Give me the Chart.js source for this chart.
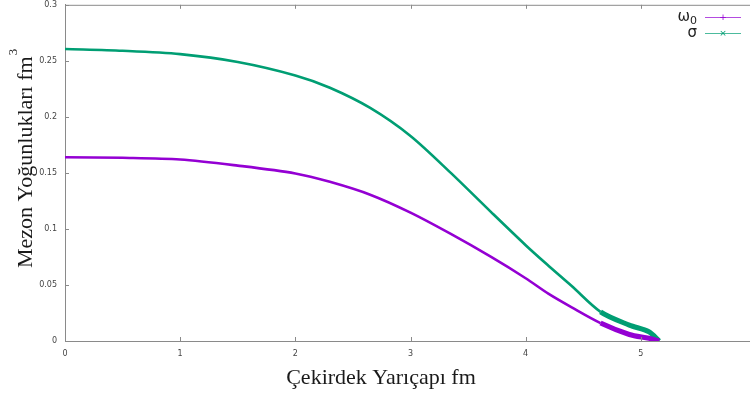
<!DOCTYPE html>
<html>
<head>
<meta charset="utf-8">
<script src="https://cdn.jsdelivr.net/npm/chart.js@4"></script>
<style>
  html, body { margin: 0; padding: 0; background: #fff; overflow: hidden; }
  #wrap { position: relative; width: 765px; height: 399px; }
</style>
</head>
<body>
<div id="wrap"><canvas id="chart" width="765" height="399"></canvas></div>
<script>
const radius = [0, 0.5, 1, 1.5, 2, 2.3, 2.65, 3, 3.35, 3.7, 4, 4.2, 4.4, 4.65, 4.9, 5.07, 5.16]
const omega0 = [0.164, 0.1635, 0.162, 0.1565, 0.1495, 0.142, 0.1305, 0.1145, 0.0955, 0.075, 0.056, 0.042, 0.030, 0.016, 0.0058, 0.0024, 0]
const sigma = [0.2606, 0.259, 0.256, 0.249, 0.237, 0.226, 0.208, 0.183, 0.150, 0.115, 0.0855, 0.067, 0.049, 0.026, 0.0142, 0.0083, 0]
const xTicks = [0, 1, 2, 3, 4, 5, 6]
const yTicks = [0, 0.05, 0.1, 0.15, 0.2, 0.25, 0.3]

const purple = "#9400d3"
const green = "#009e73"
const axisColor = "#8a8a8a"

const toPoints = (ys) => radius.map((x, i) => ({ x: x, y: ys[i] }))

// thicker where gnuplot packs the points densely
const thick = (ctx) => (ctx.p0.parsed.x >= 4.65 ? 5 : 2.6)

const frame = {
  id: "frame",
  afterDraw(chart) {
    const { ctx, chartArea: a, scales } = chart
    ctx.save()
    ctx.strokeStyle = axisColor
    ctx.lineWidth = 1
    ctx.beginPath()
    ctx.moveTo(a.left, a.top + 0.5)
    ctx.lineTo(a.right, a.top + 0.5)
    ctx.moveTo(a.right - 0.5, a.top)
    ctx.lineTo(a.right - 0.5, a.bottom)
    xTicks.forEach(v => {
      const px = Math.round(scales.x.getPixelForValue(v)) + 0.5
      ctx.moveTo(px, a.bottom)
      ctx.lineTo(px, a.bottom - 4)
      ctx.moveTo(px, a.top)
      ctx.lineTo(px, a.top + 4)
    })
    yTicks.forEach(v => {
      const py = Math.round(scales.y.getPixelForValue(v)) + 0.5
      ctx.moveTo(a.left, py)
      ctx.lineTo(a.left + 4, py)
      ctx.moveTo(a.right, py)
      ctx.lineTo(a.right - 4, py)
    })
    ctx.stroke()

    // axis titles
    ctx.fillStyle = "#1a1a1a"
    ctx.font = "22px 'Liberation Serif', 'Times New Roman', serif"
    ctx.textAlign = "center"
    ctx.textBaseline = "middle"
    ctx.fillText("Çekirdek Yarıçapı fm", 381, 378)

    ctx.save()
    ctx.translate(26, 0)
    ctx.rotate(-Math.PI / 2)
    ctx.textAlign = "left"
    ctx.textBaseline = "middle"
    const yTitle = "Mezon Yoğunlukları fm"
    ctx.fillText(yTitle, -268, 0)
    const w = ctx.measureText(yTitle).width
    ctx.font = "13px 'Liberation Serif', 'Times New Roman', serif"
    ctx.fillText("3", -268 + w + 1, -12)
    ctx.restore()

    // legend
    const items = [
      { label: "ω", sub: "0", color: purple, mark: "+", y: 17 },
      { label: "σ", sub: "", color: green, mark: "×", y: 33 },
    ]
    items.forEach(it => {
      ctx.textBaseline = "middle"
      ctx.textAlign = "right"
      ctx.fillStyle = "#222"
      let right = 697
      if (it.sub) {
        ctx.font = "11px 'DejaVu Sans', sans-serif"
        ctx.fillText(it.sub, right, it.y + 4)
        right -= ctx.measureText(it.sub).width
      }
      ctx.font = "15px 'DejaVu Sans', sans-serif"
      ctx.fillText(it.label, right, it.y)
      ctx.strokeStyle = it.color
      ctx.globalAlpha = 0.7
      ctx.lineWidth = 1
      ctx.beginPath()
      ctx.moveTo(705, it.y + 0.5)
      ctx.lineTo(741, it.y + 0.5)
      ctx.stroke()
      ctx.globalAlpha = 1
      ctx.fillStyle = it.color
      ctx.textAlign = "center"
      ctx.font = "9px 'DejaVu Sans', sans-serif"
      ctx.fillText(it.mark, 723, it.y + 0.5)
    })
    ctx.restore()
  },
}

new Chart(document.getElementById("chart"), {
  type: "line",
  data: {
    datasets: [
      {
        label: "ω0",
        data: toPoints(omega0),
        borderColor: purple,
        backgroundColor: purple,
        borderWidth: 2.6,
        pointRadius: 0,
        tension: 0.3,
        segment: { borderWidth: thick },
      },
      {
        label: "σ",
        data: toPoints(sigma),
        borderColor: green,
        backgroundColor: green,
        borderWidth: 2.6,
        pointRadius: 0,
        tension: 0.3,
        segment: { borderWidth: thick },
      },
    ],
  },
  options: {
    responsive: false,
    animation: false,
    layout: { padding: { top: -4, right: 9, left: 0, bottom: 0 } },
    plugins: { legend: { display: false }, tooltip: { enabled: false } },
    scales: {
      x: {
        type: "linear",
        min: 0,
        max: 6,
        afterFit: (s) => { s.height = 58 },
        afterBuildTicks: (s) => { s.ticks = xTicks.map(v => ({ value: v })) },
        grid: { display: false },
        border: { display: true, color: axisColor, width: 1 },
        ticks: {
          color: "#444",
          font: { size: 8, family: "'DejaVu Sans', sans-serif" },
          padding: 0,
          maxRotation: 0,
          callback: (v) => String(v),
        },
      },
      y: {
        min: 0,
        max: 0.3,
        afterFit: (s) => { s.width = 65 },
        afterBuildTicks: (s) => { s.ticks = yTicks.map(v => ({ value: v })) },
        grid: { display: false },
        border: { display: true, color: axisColor, width: 1 },
        ticks: {
          color: "#444",
          font: { size: 8, family: "'DejaVu Sans', sans-serif" },
          padding: 0,
          callback: (v) => String(Math.round(v * 100) / 100),
        },
      },
    },
  },
  plugins: [frame],
})
</script>
</body>
</html>
